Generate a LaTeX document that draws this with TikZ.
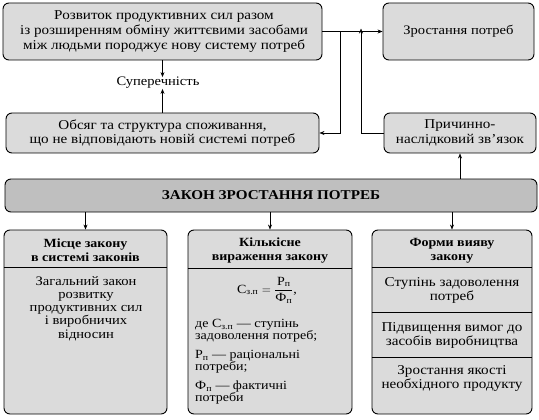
\documentclass[tikz,border=0pt]{standalone}
\usepackage{fontspec}
\usepackage{amsmath}
\setmainfont{Liberation Serif}[FakeStretch=1.12]
\usetikzlibrary{arrows.meta}
\begin{document}
\begin{tikzpicture}[x=1pt,y=-1pt,
  box/.style={draw=black,line width=0.9pt,rounded corners=6pt,fill=gray!28,inner sep=0pt},
  dark/.style={box,fill=gray!50},
  txt/.style={align=center,font=\fontsize{13.5}{14.5}\selectfont,inner sep=0pt},
  hdr/.style={align=center,font=\fontsize{12.5}{14.5}\selectfont\bfseries,inner sep=0pt},
  arr/.style={-{Stealth[length=5pt,width=4pt]},line width=0.6pt},
  ln/.style={line width=0.8pt}]
\useasboundingbox (0,0) rectangle (539,420);
% top row
\node[box,minimum width=319pt,minimum height=57pt] (top) at (162.5,31.5) {};
\node[txt,font=\fontsize{13.5}{15}\selectfont] (toptxt) at (164,32) {Розвиток продуктивних сил разом\\із розширенням обміну життєвими засобами\\між людьми породжує нову систему потреб};
\node[box,minimum width=151pt,minimum height=57pt] (growth) at (458.5,31.5) {};
\node[txt,font=\fontsize{13}{14}\selectfont] (growthtxt) at (growth) {Зростання потреб};
% second row
\node[box,minimum width=313pt,minimum height=40pt] (obs) at (162.5,133) {};
\node[txt] (obstxt) at (obs) {Обсяг та структура споживання,\\що не відповідають новій системі потреб};
\node[box,minimum width=152pt,minimum height=40pt] (pr) at (460,133) {};
\node[txt] (prtxt) at (pr) {Причинно-\\наслідковий зв’язок};
\node[txt,font=\fontsize{13}{14}\selectfont] (sup) at (158,83) {Суперечність};
% law
\node[dark,minimum width=532pt,minimum height=33pt] (zakon) at (271,195.5) {};
\node[hdr,font=\fontsize{13.5}{14}\selectfont\bfseries] (zakontxt) at (zakon) {ЗАКОН ЗРОСТАННЯ ПОТРЕБ};
% bottom boxes
\node[box,minimum width=163pt,minimum height=184pt] (b1) at (85.5,322) {};
\node[box,minimum width=164pt,minimum height=184pt] (b2) at (270,322) {};
\node[box,minimum width=160pt,minimum height=184pt] (b3) at (452,322) {};
\draw[ln] (b1.west |- 0,267) -- (b1.east |- 0,267);
\draw[ln] (b2.west |- 0,268) -- (b2.east |- 0,268);
\draw[ln] (b3.west |- 0,267) -- (b3.east |- 0,267);
\draw[ln] (b3.west |- 0,312) -- (b3.east |- 0,312);
\draw[ln] (b3.west |- 0,357) -- (b3.east |- 0,357);
\node[hdr] (h1) at (85.5,250) {Місце закону\\в системі законів};
\node[hdr] (h2) at (270,250.5) {Кількісне\\вираження закону};
\node[hdr] (h3) at (452,251) {Форми вияву\\закону};
\node[txt,font=\fontsize{13}{13.3}\selectfont] (t1) at (86,308.5) {Загальний закон\\розвитку\\продуктивних сил\\і виробничих\\відносин};
\node[txt,font=\fontsize{12.5}{14}\selectfont] (f2) at (267,290) {$\text{С}_{\text{з.п}}=\dfrac{\text{Р}_{\text{п}}}{\text{Ф}_{\text{п}}}$,};
\node[txt,anchor=north west,align=left,font=\fontsize{12.5}{12.5}\selectfont] (t2) at (195,319) {де С\textsubscript{з.п} — ступінь\\задоволення потреб;\\[6pt]Р\textsubscript{п} — раціональні\\потреби;\\[6pt]Ф\textsubscript{п} — фактичні\\потреби};
\node[txt] (t31) at (452,290.5) {Ступінь задоволення\\потреб};
\node[txt] (t32) at (452,335.5) {Підвищення вимог до\\засобів виробництва};
\node[txt] (t33) at (452,378.5) {Зростання якості\\необхідного продукту};
% connectors
\coordinate (j1) at (340,31.5);
\coordinate (j2) at (361,31.5);
\draw[arr] (top.east) -- (growth.west);
\draw[arr] (j1) |- (obs.east);
\draw[arr] (pr.west) -| ([yshift=3pt]j2);
\draw[arr] (top.south) -- (top.south |- sup.north);
\draw[arr] (obs.north) -- (obs.north |- sup.south);
\draw[arr] (zakon.north -| pr) -- (pr.south);
\draw[arr] (zakon.south -| b1) -- (b1.north);
\draw[arr] (zakon.south -| b2) -- (b2.north);
\draw[arr] (zakon.south -| b3) -- (b3.north);
\end{tikzpicture}
\end{document}
